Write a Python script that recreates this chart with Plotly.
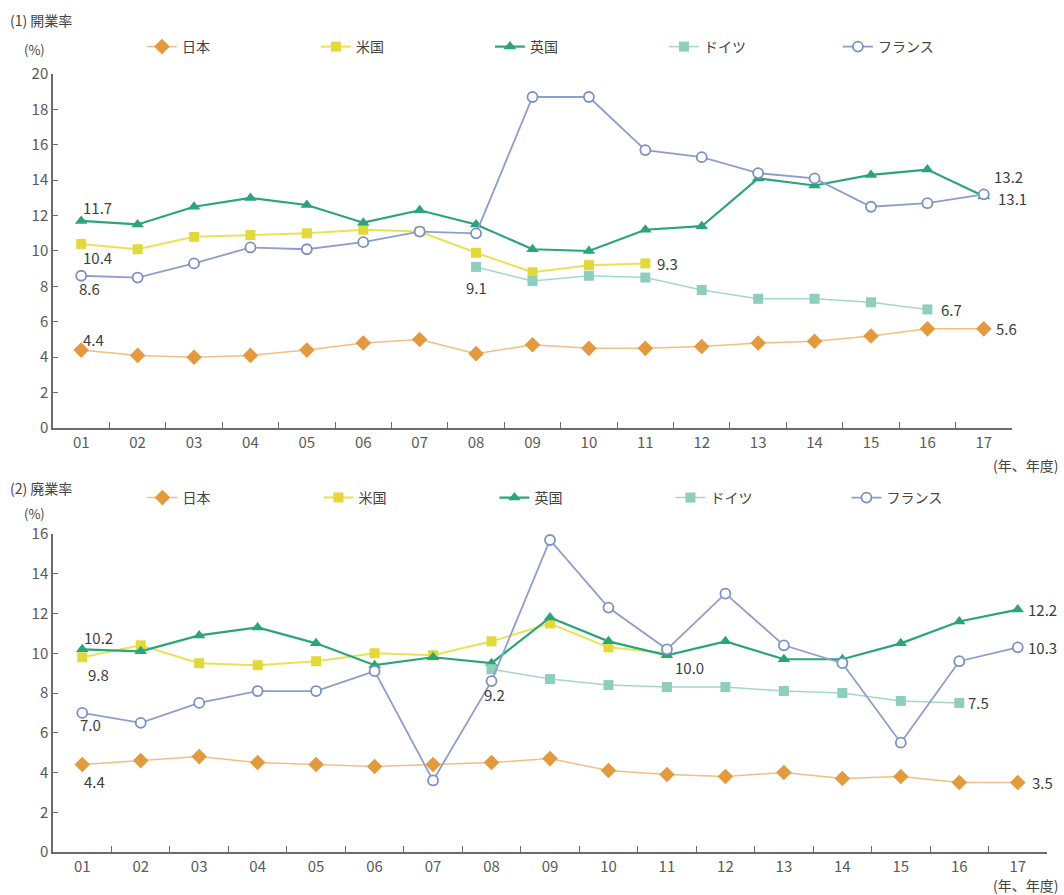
import plotly.graph_objects as go

cats = ["01", "02", "03", "04", "05", "06", "07", "08", "09", "10",
        "11", "12", "13", "14", "15", "16", "17"]
names = ["日本", "米国", "英国", "ドイツ", "フランス"]

# (1) 開業率
jp1 = [4.4, 4.1, 4.0, 4.1, 4.4, 4.8, 5.0, 4.2, 4.7, 4.5, 4.5, 4.6, 4.8, 4.9, 5.2, 5.6, 5.6]
us1 = [10.4, 10.1, 10.8, 10.9, 11.0, 11.2, 11.1, 9.9, 8.8, 9.2, 9.3, None, None, None, None, None, None]
uk1 = [11.7, 11.5, 12.5, 13.0, 12.6, 11.6, 12.3, 11.5, 10.1, 10.0, 11.2, 11.4, 14.1, 13.7, 14.3, 14.6, 13.1]
de1 = [None, None, None, None, None, None, None, 9.1, 8.3, 8.6, 8.5, 7.8, 7.3, 7.3, 7.1, 6.7, None]
fr1 = [8.6, 8.5, 9.3, 10.2, 10.1, 10.5, 11.1, 11.0, 18.7, 18.7, 15.7, 15.3, 14.4, 14.1, 12.5, 12.7, 13.2]

# (2) 廃業率
jp2 = [4.4, 4.6, 4.8, 4.5, 4.4, 4.3, 4.4, 4.5, 4.7, 4.1, 3.9, 3.8, 4.0, 3.7, 3.8, 3.5, 3.5]
us2 = [9.8, 10.4, 9.5, 9.4, 9.6, 10.0, 9.9, 10.6, 11.5, 10.3, 10.0, None, None, None, None, None, None]
uk2 = [10.2, 10.1, 10.9, 11.3, 10.5, 9.4, 9.8, 9.5, 11.8, 10.6, 9.9, 10.6, 9.7, 9.7, 10.5, 11.6, 12.2]
de2 = [None, None, None, None, None, None, None, 9.2, 8.7, 8.4, 8.3, 8.3, 8.1, 8.0, 7.6, 7.5, None]
fr2 = [7.0, 6.5, 7.5, 8.1, 8.1, 9.1, 3.6, 8.6, 15.7, 12.3, 10.2, 13.0, 10.4, 9.5, 5.5, 9.6, 10.3]

styles = [
    dict(line=dict(color="#F2BE85", width=1.5),
         marker=dict(symbol="diamond", size=12, color="#E3993D")),
    dict(line=dict(color="#E9E257", width=2),
         marker=dict(symbol="square", size=10, color="#E2D83A")),
    dict(line=dict(color="#2AA579", width=2.2),
         marker=dict(symbol="triangle-up", size=11, color="#2AA579")),
    dict(line=dict(color="#A3D7CB", width=1.5),
         marker=dict(symbol="square", size=10, color="#8FCDBE")),
    dict(line=dict(color="#8E9ECB", width=1.8),
         marker=dict(symbol="circle", size=10, color="white",
                     line=dict(color="#7D90C6", width=1.8))),
]

FONT = "Noto Sans CJK JP"
fig = go.Figure()

for series, xa, ya, lg in [([jp1, us1, uk1, de1, fr1], "x", "y", "legend"),
                           ([jp2, us2, uk2, de2, fr2], "x2", "y2", "legend2")]:
    for nm, vals, st in zip(names, series, styles):
        fig.add_trace(go.Scatter(x=cats, y=vals, name=nm, mode="lines+markers",
                                 xaxis=xa, yaxis=ya, legend=lg,
                                 line=st["line"], marker=st["marker"],
                                 connectgaps=False))

# data labels: (xaxis, yaxis, category, value, xanchor, xshift, yshift)
labels = [
    ("x", "y", "01", 11.7, "left", 0, 13),
    ("x", "y", "01", 10.4, "left", 0, -14),
    ("x", "y", "01", 8.6, "left", -4, -13),
    ("x", "y", "01", 4.4, "left", 0, 11),
    ("x", "y", "08", 9.1, "center", 0, -21),
    ("x", "y", "11", 9.3, "left", 10, 0),
    ("x", "y", "17", 13.2, "left", 8, 18),
    ("x", "y", "17", 13.1, "left", 12, -2),
    ("x", "y", "16", 6.7, "left", 12, 0),
    ("x", "y", "17", 5.6, "left", 10, 0),
    ("x2", "y2", "01", 10.2, "left", 0, 12),
    ("x2", "y2", "01", 9.8, "left", 4, -17),
    ("x2", "y2", "01", 7.0, "left", -4, -12),
    ("x2", "y2", "01", 4.4, "left", 0, -17),
    ("x2", "y2", "08", 9.2, "center", 3, -25),
    ("x2", "y2", "11", 10.0, "left", 6, -14),
    ("x2", "y2", "17", 12.2, "left", 8, 0),
    ("x2", "y2", "17", 10.3, "left", 8, 0),
    ("x2", "y2", "16", 7.5, "left", 7, 0),
    ("x2", "y2", "17", 3.5, "left", 12, 0),
]
ann = []
for xa, ya, c, v, xanc, xs, ys in labels:
    ann.append(dict(xref=xa, yref=ya, x=cats.index(c), y=v, text=f"{v:.1f}",
                    showarrow=False, xanchor=xanc, yanchor="middle",
                    xshift=xs, yshift=ys,
                    font=dict(family=FONT, size=15, color="#3d3d3d")))

def ptext(x, y, t, size=14, xanchor="left"):
    return dict(xref="paper", yref="paper", x=x, y=y, text=t, showarrow=False,
                xanchor=xanchor, yanchor="middle",
                font=dict(family=FONT, size=size, color="#444"))

ann += [
    ptext(-0.0453, 1.069, "(1) 開業率", 14),
    ptext(-0.031, 1.031, "(%)", 13),
    ptext(1.013, 0.497, "(年、年度)", 14, "right"),
    ptext(-0.0453, 0.4685, "(2) 廃業率", 14),
    ptext(-0.031, 0.435, "(%)", 13),
    ptext(1.013, -0.042, "(年、年度)", 14, "right"),
]

axis_common = dict(showline=True, linecolor="#6b6b6b", linewidth=1.5,
                   showgrid=False, zeroline=False, mirror=False,
                   tickfont=dict(family=FONT, size=15, color="#5a5a5a"),
                   tickcolor="#6b6b6b")
xcommon = dict(axis_common, type="category", range=[-0.5, 16.5],
               ticks="inside", ticklen=6, tickson="boundaries")
ycommon = dict(axis_common, ticks="inside", ticklen=5, dtick=2)

legend_common = dict(orientation="h", xanchor="left", yanchor="middle",
                     font=dict(family=FONT, size=14, color="#444"),
                     bgcolor="rgba(0,0,0,0)", entrywidthmode="pixels",
                     entrywidth=129, itemclick=False, traceorder="normal")

fig.update_layout(
    width=1064, height=895,
    margin=dict(l=53, r=17, t=74, b=43),
    paper_bgcolor="white", plot_bgcolor="white",
    xaxis=dict(xcommon, domain=[0, 0.9648], anchor="y"),
    yaxis=dict(ycommon, domain=[0.545, 1.0], range=[0, 20], anchor="x"),
    xaxis2=dict(xcommon, domain=[0, 1.0], anchor="y2"),
    yaxis2=dict(ycommon, domain=[0.0, 0.4087], range=[0, 16], anchor="x2"),
    legend=dict(legend_common, x=0.0895, y=1.0347),
    legend2=dict(legend_common, x=0.09, y=0.455, entrywidth=131),
    annotations=ann,
    showlegend=True,
)

fig.write_html("out.html")
